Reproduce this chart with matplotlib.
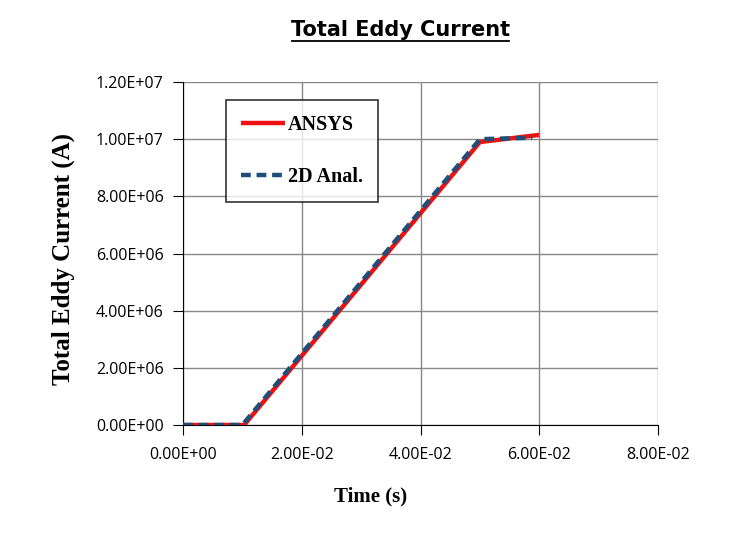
import matplotlib
matplotlib.use("Agg")
import matplotlib.pyplot as plt
from matplotlib.lines import Line2D
from matplotlib.ticker import FuncFormatter

# data
ansys_t = [0.0, 0.0103, 0.0500, 0.0600]
ansys_i = [0.0, 0.0, 9.90e6, 1.015e7]
anal_t = [0.0, 0.0100, 0.0500, 0.0588]
anal_i = [0.0, 0.0, 1.00e7, 1.005e7]

x_ticks = [0.0, 0.02, 0.04, 0.06, 0.08]
y_ticks = [0, 2e6, 4e6, 6e6, 8e6, 1e7, 1.2e7]


def sci(v, pos=None):
    return "%.2E" % v


fig = plt.figure(figsize=(7.34, 5.41), dpi=100)
ax = fig.add_axes([0.2493, 0.2144, 0.6472, 0.634])

ax.plot(ansys_t, ansys_i, color="#ee1111", lw=3.2, label="ANSYS", zorder=3,
        solid_capstyle="butt")
ax.plot(anal_t, anal_i, color="#1f4e79", lw=3.2, ls=(0, (2.2, 1.3)),
        label="2D Anal.", zorder=4)

ax.set_xlim(0, 0.08)
ax.set_ylim(0, 1.2e7)
ax.set_xticks(x_ticks)
ax.set_yticks(y_ticks)
ax.xaxis.set_major_formatter(FuncFormatter(sci))
ax.yaxis.set_major_formatter(FuncFormatter(sci))
ax.grid(True, color="#888888", lw=1)
ax.set_axisbelow(True)
for s in ["top", "right"]:
    ax.spines[s].set_visible(False)
for s in ["left", "bottom"]:
    ax.spines[s].set_color("black")
ax.tick_params(axis="both", labelsize=11.5, length=7, color="black",
               labelfontfamily="Open Sans")
ax.tick_params(axis="x", pad=9)
ax.tick_params(axis="y", pad=7)

ax.set_xlabel("Time (s)", fontsize=15, fontweight="bold",
              family="Liberation Serif")
ax.xaxis.set_label_coords(0.394, -0.18)
ax.set_ylabel("Total Eddy Current (A)", fontsize=18, fontweight="bold",
              family="Liberation Serif")
ax.yaxis.set_label_coords(-0.228, 0.485)

leg = ax.legend(loc="upper left", bbox_to_anchor=(0.09, 0.948),
                prop={"family": "Liberation Serif", "weight": "bold", "size": 14.5},
                frameon=True, fancybox=False, edgecolor="black",
                handlelength=2.2, handletextpad=0.15, labelspacing=1.6,
                borderpad=0.75, borderaxespad=0)
leg.get_frame().set_linewidth(1.2)

fig.text(0.546, 0.944, "Total Eddy Current", ha="center", va="center",
         fontsize=15, fontweight="bold", family="DejaVu Sans")
fig.add_artist(Line2D([0.398, 0.693], [0.925, 0.925], color="black", lw=1.3))

fig.savefig("out.png", dpi=100)
